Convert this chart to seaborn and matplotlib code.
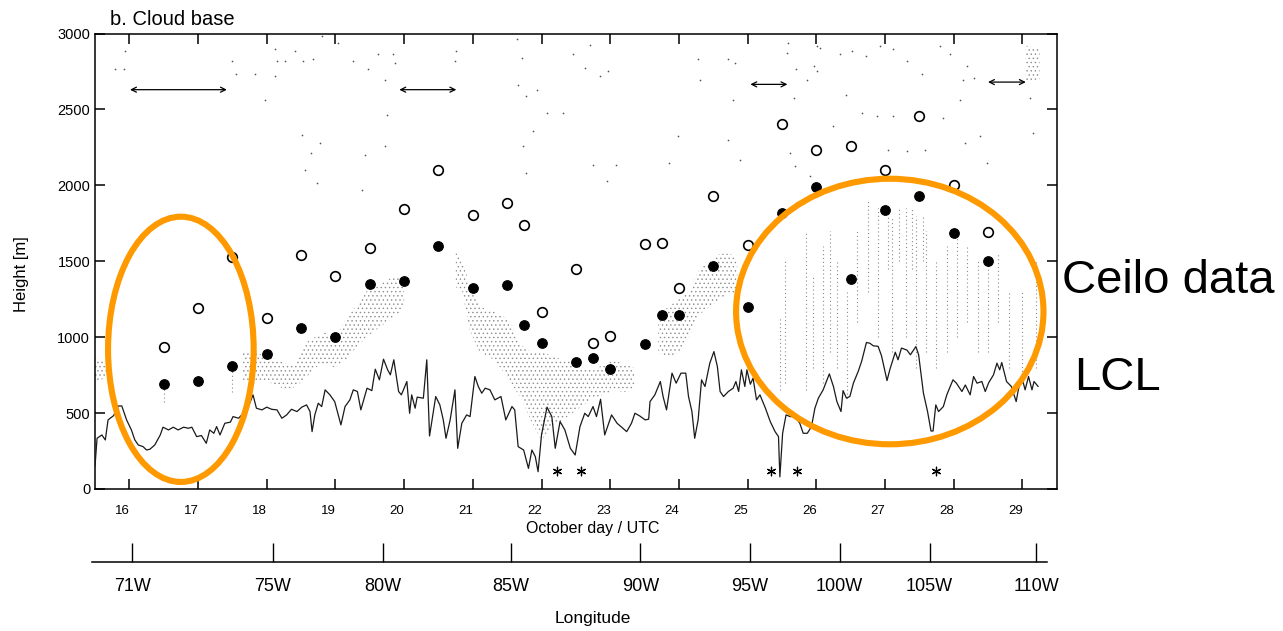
import numpy as np
import matplotlib
matplotlib.use("Agg")
import matplotlib.pyplot as plt
import seaborn as sns
from matplotlib.patches import Ellipse
from matplotlib.transforms import ScaledTranslation

sns.set_style("ticks")
plt.rcParams["font.family"] = ["Liberation Sans", "DejaVu Sans"]
plt.rcParams["hatch.linewidth"] = 0.5
for key in ["text.color", "axes.labelcolor", "xtick.color", "ytick.color", "axes.edgecolor"]:
    plt.rcParams[key] = "black"

# ---------------- data ----------------
day_ticks = list(range(16, 30))
height_ticks = [0, 500, 1000, 1500, 2000, 2500, 3000]

lon_tick_days = [16.04, 18.09, 19.69, 21.55, 23.44, 25.03, 26.34, 27.65, 29.20]
lon_labels = ["71W", "75W", "80W", "85W", "90W", "95W", "100W", "105W", "110W"]

obs_day = [16.5, 17.0, 17.5, 18.0, 18.5, 19.0, 19.5, 20.0, 20.5, 21.0, 21.5, 21.75,
           22.0, 22.5, 22.75, 23.0, 23.5, 23.75, 24.0, 24.5, 25.0, 25.5, 26.0, 26.5,
           27.0, 27.5, 28.0, 28.5]
open_h = [935, 1190, 1530, 1125, 1538, 1400, 1587, 1844, 2099, 1807, 1886, 1741,
          1169, 1450, 961, 1009, 1613, 1620, 1323, 1927, 1604, 2402, 2235, 2257,
          2099, 2455, 2000, 1692]
filled_h = [694, 712, 809, 888, 1062, 1004, 1352, 1371, 1598, 1321, 1341, 1081,
            963, 835, 862, 791, 956, 1147, 1147, 1466, 1198, 1818, 1989, 1383,
            1835, 1932, 1686, 1503]

lcl_day = [15.50, 15.53, 15.60, 15.65, 15.69, 15.77, 15.84, 15.89, 15.96, 16.03, 16.08,
           16.13, 16.20, 16.25, 16.30, 16.37, 16.45, 16.49, 16.57, 16.64, 16.71, 16.79,
           16.86, 16.91, 16.98, 17.05, 17.12, 17.17, 17.23, 17.27, 17.32, 17.39, 17.47,
           17.51, 17.59, 17.66, 17.73, 17.80, 17.85, 17.93, 18.00, 18.07, 18.15, 18.22,
           18.29, 18.36, 18.44, 18.51, 18.58, 18.63, 18.66, 18.70, 18.75, 18.80, 18.85,
           18.92, 18.99, 19.08, 19.14, 19.21, 19.26, 19.32, 19.37, 19.46, 19.53, 19.58,
           19.64, 19.70, 19.76, 19.80, 19.85, 19.92, 19.96, 20.04, 20.08, 20.11, 20.16,
           20.19, 20.28, 20.33, 20.37, 20.46, 20.52, 20.57, 20.61, 20.67, 20.74, 20.78,
           20.84, 20.91, 20.96, 21.03, 21.08, 21.13, 21.18, 21.25, 21.32, 21.41, 21.48,
           21.57, 21.61, 21.66, 21.74, 21.81, 21.86, 21.91, 21.95, 22.00, 22.08, 22.15,
           22.20, 22.27, 22.34, 22.42, 22.49, 22.56, 22.63, 22.68, 22.75, 22.80, 22.86,
           22.92, 23.02, 23.10, 23.24, 23.31, 23.36, 23.43, 23.51, 23.56, 23.58, 23.65,
           23.73, 23.77, 23.82, 23.90, 23.96, 24.03, 24.10, 24.14, 24.19, 24.23, 24.28,
           24.33, 24.38, 24.45, 24.51, 24.56, 24.60, 24.65, 24.72, 24.79, 24.83, 24.87,
           24.91, 24.96, 24.99, 25.04, 25.08, 25.13, 25.18, 25.26, 25.33, 25.40, 25.45,
           25.47, 25.51, 25.56, 25.62, 25.69, 25.76, 25.81, 25.87, 25.93, 25.98, 26.03,
           26.10, 26.19, 26.25, 26.30, 26.36, 26.39, 26.44, 26.49, 26.54, 26.61, 26.66,
           26.73, 26.78, 26.83, 26.90, 26.95, 27.03, 27.07, 27.15, 27.19, 27.24, 27.32,
           27.37, 27.45, 27.49, 27.56, 27.62, 27.67, 27.70, 27.74, 27.78, 27.85, 27.90,
           27.99, 28.04, 28.12, 28.17, 28.24, 28.29, 28.34, 28.41, 28.46, 28.51, 28.58,
           28.63, 28.67, 28.70, 28.77, 28.84, 28.91, 28.94, 28.99, 29.04, 29.09, 29.14,
           29.17, 29.23]
lcl_h = [150, 334, 356, 323, 455, 483, 547, 547, 455, 389, 323,
         290, 279, 257, 262, 290, 356, 407, 389, 407, 389, 407,
         400, 407, 345, 352, 301, 389, 367, 411, 356, 433, 440,
         477, 466, 499, 539, 620, 532, 521, 539, 525, 521, 466,
         488, 525, 510, 539, 554, 510, 378, 488, 565, 543, 653,
         620, 575, 422, 543, 587, 653, 642, 521, 664, 648, 789,
         719, 855, 785, 752, 851, 642, 620, 708, 499, 620, 532,
         605, 598, 851, 349, 609, 554, 455, 334, 455, 653, 268,
         433, 488, 477, 741, 675, 631, 664, 653, 587, 609, 455,
         543, 521, 279, 257, 136, 257, 213, 114, 356, 539, 477,
         268, 444, 389, 268, 224, 411, 499, 477, 543, 477, 591,
         356, 488, 433, 378, 433, 499, 481, 455, 460, 576, 620,
         708, 609, 521, 763, 697, 763, 763, 609, 510, 334, 455,
         719, 675, 829, 905, 807, 642, 609, 642, 664, 708, 642,
         785, 675, 785, 690, 730, 587, 620, 532, 444, 378, 345,
         80, 367, 488, 477, 477, 433, 367, 367, 411, 532, 598,
         653, 758, 675, 576, 510, 648, 598, 610, 697, 774, 840,
         965, 960, 943, 940, 877, 714, 785, 901, 851, 928, 915,
         884, 938, 884, 631, 510, 382, 382, 554, 510, 543, 620,
         719, 697, 642, 685, 620, 741, 697, 708, 642, 700, 752,
         829, 785, 833, 708, 675, 576, 650, 741, 653, 741, 653,
         708, 675]

# ceilometer: main stippled cloud-base band (NaN = no cloud)
nan = np.nan
ceilo_day = [15.50, 15.58, 15.66, 15.70, 17.60, 17.65, 17.80, 17.95, 18.10, 18.25, 18.40,
             18.55, 18.70, 18.85, 19.00, 19.15, 19.30, 19.45, 19.60, 19.75, 19.90, 20.00,
             20.05, 20.70, 20.75, 20.85, 20.95, 21.10, 21.25, 21.40, 21.55, 21.70, 21.85,
             22.00, 22.15, 22.30, 22.45, 22.60, 22.75, 22.90, 23.05, 23.20, 23.35, 23.45,
             23.65, 23.70, 23.85, 24.00, 24.15, 24.30, 24.45, 24.60, 24.75, 24.85, 24.90,
             29.00, 29.05, 29.25]
ceilo_lo = [700, 720, 730, nan, nan, 720, 700, 720, 690, 660, 670,
            720, 800, 820, 800, 850, 930, 1000, 1050, 1100, 1150, 1200,
            nan, nan, 1330, 1300, 1050, 900, 870, 800, 700, 600, 450,
            320, 420, 450, 500, 550, 600, 620, 650, 640, 650, nan,
            nan, 900, 870, 900, 1000, 1150, 1200, 1250, 1300, 1250, nan,
            nan, 2680, 2700]
ceilo_hi = [860, 850, 820, nan, nan, 900, 910, 880, 860, 830, 820,
            960, 1000, 1030, 1000, 1120, 1200, 1300, 1330, 1380, 1400, 1380,
            nan, nan, 1560, 1500, 1350, 1200, 1180, 1150, 1100, 950, 900,
            900, 880, 850, 850, 800, 780, 820, 850, 820, 800, nan,
            nan, 1150, 1200, 1250, 1300, 1450, 1500, 1550, 1550, 1500, nan,
            nan, 2920, 2900]

# ceilometer: sparse vertical streaks (east Pacific, broken cloud)
streak_day = [16.50, 17.50, 25.47, 25.55, 25.85, 25.95, 26.10, 26.20, 26.30, 26.45,
              26.60, 26.75, 26.90, 27.05, 27.10, 27.20, 27.30, 27.40, 27.45, 27.55,
              27.60, 27.75, 27.90, 28.05, 28.20, 28.35, 28.50, 28.65, 28.80, 29.00, 29.20]
streak_lo = [570, 640, 653, 700, 650, 800, 700, 900, 800, 600,
             1100, 1300, 1000, 1450, 900, 1500, 1000, 1450, 800, 1500,
             900, 800, 900, 1000, 1100, 900, 900, 1100, 800, 700, 800]
streak_hi = [690, 800, 1134, 1500, 1700, 1400, 1600, 1700, 1500, 1300,
             1700, 1900, 1850, 1850, 1800, 1850, 1850, 1850, 1800, 1800,
             1700, 1500, 1600, 1700, 1600, 1500, 1500, 1550, 1300, 1300, 1500]

# ceilometer: isolated high detections
spot_day = [15.79, 15.92, 15.94, 17.49, 17.55, 17.83, 18.12, 18.15, 18.27, 18.41, 18.53,
            18.67, 17.97, 18.12, 18.51, 18.65, 18.78, 18.56, 18.73, 19.38, 19.43, 19.72,
            19.75, 19.48, 19.72, 19.87, 19.84, 19.26, 19.04, 18.80, 19.62, 20.76, 20.74,
            21.64, 21.71, 21.66, 21.78, 21.93, 21.88, 21.73, 21.78, 22.63, 22.85, 22.97,
            22.71, 22.46, 22.32, 22.08, 22.75, 22.95, 23.09, 23.85, 23.99, 24.31, 24.28,
            24.72, 24.82, 24.79, 24.72, 24.89, 25.59, 25.57, 25.71, 25.67, 25.62, 25.69,
            25.91, 25.96, 26.01, 26.05, 26.35, 26.52, 26.73, 26.93, 27.12, 27.32, 27.54,
            27.80, 27.95, 28.19, 28.29, 28.14, 26.66, 26.88, 27.12, 27.85, 28.09, 26.44,
            26.01, 25.86, 26.25, 27.05, 27.32, 27.58, 28.17, 28.38, 28.48, 29.16, 29.11]
spot_h = [2763, 2763, 2883, 2817, 2730, 2730, 2895, 2817, 2817, 2883, 2817,
          2829, 2565, 2719, 2334, 2213, 2279, 2103, 2015, 1971, 2202, 2257,
          2466, 2763, 2697, 2807, 2862, 2817, 2938, 2982, 2862, 2883, 2817,
          2961, 2839, 2664, 2587, 2631, 2356, 2257, 2081, 2774, 2719, 2752,
          2927, 2862, 2477, 2477, 2136, 2026, 2136, 2147, 2323, 2697, 2829,
          2829, 2807, 2565, 2301, 2169, 2938, 2873, 2763, 2576, 2213, 2125,
          2059, 2785, 2916, 2906, 2862, 2883, 2851, 2916, 2895, 2817, 2730,
          2916, 2862, 2785, 2708, 2697, 2477, 2455, 2455, 2444, 2565, 2598,
          2752, 2697, 2389, 2235, 2224, 2235, 2279, 2323, 2147, 2345, 2576]

ast_day = [22.22, 22.57, 25.34, 25.72, 27.75]
ast_h = [120, 120, 120, 120, 120]

arrow_start = [16.01, 19.93, 25.04, 28.50]
arrow_end = [17.42, 20.76, 25.58, 29.05]
arrow_h = [2630, 2630, 2665, 2680]

W, H = 1283, 631


def fx(px):
    return px / W


def fy(py):
    return 1 - py / H


fig = plt.figure(figsize=(12.83, 6.31), dpi=100)
ax = fig.add_axes([fx(95), fy(489), (1056.7 - 95) / W, (489 - 33.5) / H])

# ceilometer stipple
ax.fill_between(ceilo_day, ceilo_lo, ceilo_hi, facecolor="none", edgecolor="#8c8c8c",
                hatch="....", linewidth=0, zorder=1)
ax.vlines(streak_day, streak_lo, streak_hi, colors="#8a8a8a", linestyles=(0, (1, 2.5)),
          linewidth=0.8, zorder=1)
ax.scatter(spot_day, spot_h, s=1.5, color="#555555", linewidths=0, zorder=1)

# LCL
sns.lineplot(x=lcl_day, y=lcl_h, ax=ax, color="#1a1a1a", linewidth=0.9,
             sort=False, estimator=None, zorder=3)

# ceilometer-derived cloud base statistics
sns.scatterplot(x=obs_day, y=open_h, ax=ax, marker="o", s=48, color="white",
                edgecolor="black", linewidth=1.2, zorder=4)
sns.scatterplot(x=obs_day, y=filled_h, ax=ax, marker="o", s=48, color="black",
                edgecolor="black", linewidth=0.8, zorder=4)

ax.scatter(ast_day, ast_h, marker=(6, 2, 0), s=38, color="black", linewidths=0.9, zorder=4)

for x1, x2, yy in zip(arrow_start, arrow_end, arrow_h):
    ax.annotate("", xy=(x1, yy), xytext=(x2, yy),
                arrowprops=dict(arrowstyle="<->", lw=0.9, color="black",
                                mutation_scale=9, shrinkA=0, shrinkB=0))

ax.set_xlim(15.5, 29.5)
ax.set_ylim(0, 3000)
ax.set_xticks(day_ticks)
ax.set_xticklabels([str(d) for d in day_ticks])
ax.set_yticks(height_ticks)
ax.set_yticklabels([str(h) for h in height_ticks])
ax.tick_params(axis="both", direction="in", top=True, right=True, length=7,
               width=1.1, color="black")
ax.tick_params(axis="x", labelsize=9.5, pad=11.5)
ax.tick_params(axis="y", labelsize=10.5, pad=3.5)
for lbl in ax.get_xticklabels():
    lbl.set_transform(lbl.get_transform() + ScaledTranslation(-7 / 100, 0, fig.dpi_scale_trans))
for s in ax.spines.values():
    s.set_linewidth(1.1)
    s.set_color("black")
ax.set_xlabel("")
ax.set_ylabel("")

# highlight ellipses
ax.add_patch(Ellipse((16.75, 920), 2.12, 1747, fill=False, edgecolor="#FF9900",
                     linewidth=4.4, clip_on=False, zorder=10))
ax.add_patch(Ellipse((27.07, 1169), 4.475, 1749, fill=False, edgecolor="#FF9900",
                     linewidth=4.4, clip_on=False, zorder=10))

# longitude axis
ax2 = fig.add_axes([fx(92), fy(561.5), (1047 - 92) / W, 0.05])
ax2.patch.set_visible(False)
ax2.set_xlim(15.5 + (92 - 95) / 68.69, 15.5 + (1047 - 95) / 68.69)
ax2.set_xticks(lon_tick_days)
ax2.set_xticklabels(lon_labels)
ax2.set_yticks([])
for side in ["left", "right", "top"]:
    ax2.spines[side].set_visible(False)
ax2.spines["bottom"].set_linewidth(1.1)
ax2.spines["bottom"].set_color("black")
ax2.tick_params(axis="x", direction="in", length=14, width=1.0, labelsize=13, pad=12,
                color="black")

# texts
fig.text(fx(110), fy(25), "b. Cloud base", fontsize=14.5, ha="left", va="baseline")
fig.text(fx(21.5), fy(274), "Height [m]", fontsize=12, rotation=90, ha="center", va="center")
fig.text(fx(593), fy(529), "October day / UTC", fontsize=11.5, ha="center", va="center")
fig.text(fx(593), fy(619), "Longitude", fontsize=12.5, ha="center", va="center")
fig.text(fx(1062), fy(293), "Ceilo data", fontsize=34, ha="left", va="baseline")
fig.text(fx(1074), fy(390), "LCL", fontsize=34, ha="left", va="baseline")

fig.savefig("out.png", dpi=100)
